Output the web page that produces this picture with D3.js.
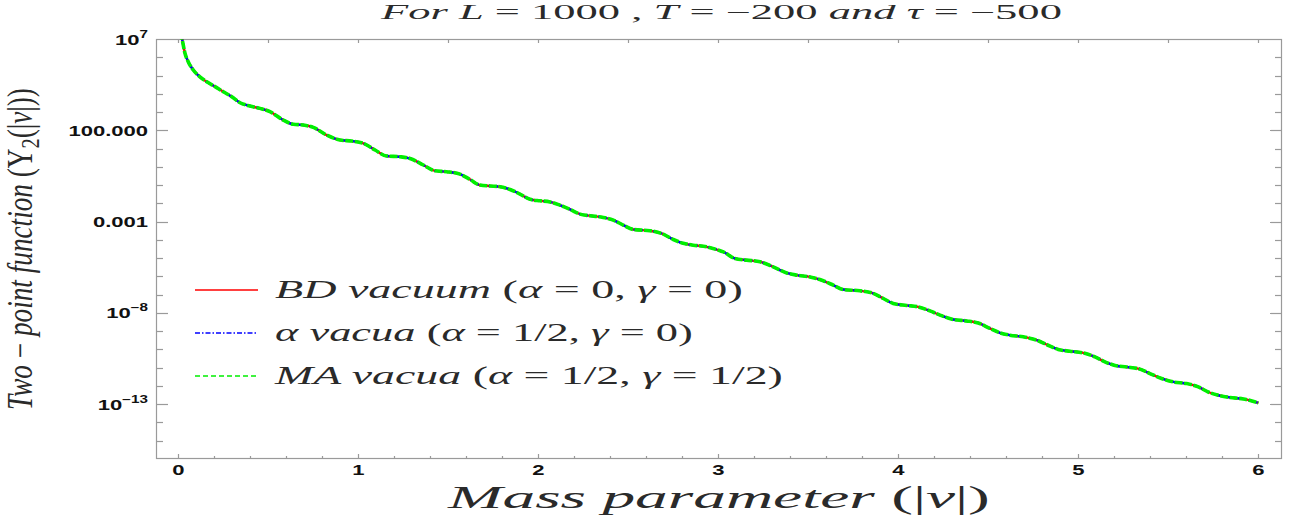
<!DOCTYPE html>
<html><head><meta charset="utf-8">
<script src="https://cdn.jsdelivr.net/npm/d3@7"></script>
<style>
html,body{margin:0;padding:0;background:#fff;}
svg{display:block;}
</style></head>
<body>
<svg id="chart" width="1306" height="527"></svg>
<script>
// ---- data ----
const massParameter = [0.012,0.021,0.036,0.054,0.082,0.119,0.157,0.203,0.249,0.296,0.342,0.397,0.453,0.508,0.582,0.638,0.693,0.749,0.823,0.897,0.962,1.027,1.092,1.157,1.231,1.286,1.36,1.425,1.49,1.564,1.619,1.675,1.731,1.786,1.842,1.897,1.953,2.008,2.064,2.119,2.175,2.231,2.286,2.36,2.416,2.471,2.527,2.619,2.684,2.749,2.804,2.86,2.934,2.999,3.027,3.092,3.157,3.231,3.304,3.379,3.434,3.508,3.582,3.638,3.693,3.786,3.86,3.916,3.971,4.046,4.11,4.175,4.231,4.304,4.379,4.443,4.508,4.564,4.619,4.693,4.768,4.823,4.888,4.953,5.027,5.092,5.147,5.203,5.268,5.342,5.397,5.462,5.527,5.601,5.666,5.721,5.777,5.842,5.916,6.0];
// log10 of the two-point function (identical for all three vacua at this scale)
const log10TwoPoint = [7.4,6.95,6.22,5.76,5.30,4.93,4.66,4.39,4.11,3.84,3.51,3.33,3.20,3.02,2.56,2.33,2.29,2.16,1.74,1.47,1.41,1.29,0.92,0.59,0.55,0.46,0.10,-0.22,-0.27,-0.40,-0.69,-1.00,-1.05,-1.09,-1.24,-1.49,-1.78,-1.86,-1.92,-2.10,-2.33,-2.59,-2.68,-2.77,-2.92,-3.19,-3.43,-3.50,-3.65,-3.98,-4.19,-4.29,-4.38,-4.56,-4.66,-5.02,-5.11,-5.20,-5.48,-5.81,-5.93,-6.03,-6.24,-6.48,-6.72,-6.79,-6.93,-7.21,-7.48,-7.59,-7.67,-7.89,-8.12,-8.36,-8.44,-8.55,-8.85,-9.09,-9.22,-9.31,-9.49,-9.73,-10.00,-10.10,-10.19,-10.41,-10.68,-10.88,-10.96,-11.08,-11.32,-11.59,-11.78,-11.87,-12.05,-12.33,-12.51,-12.63,-12.71,-12.93];
const bdVacuum = log10TwoPoint.map(v => Math.pow(10, v));
const alphaVacua = log10TwoPoint.map(v => Math.pow(10, v));
const maVacua = log10TwoPoint.map(v => Math.pow(10, v));

const xTickValues = [0,1,2,3,4,5,6];
const xTickLabels = ["0","1","2","3","4","5","6"];
const yTickValues = [1e7, 1e2, 1e-3, 1e-8, 1e-13];
const yTickLabels = [["10","7"],["100.000",""],["0.001",""],["10","\u22128"],["10","\u221213"]];
const seriesNames = ["BD vacuum", "\u03b1 vacua", "MA vacua"];

// ---- layout ----
const svg = d3.select("#chart");
const L = 156, R = 1282, T = 39, B = 459;
const x = d3.scaleLinear().domain([-0.125, 6.131]).range([L, R]);
const y = d3.scaleLog().domain([1e-16, 1e7]).range([B, T]);
const frameColor = "#9a9a9a";
const STRETCH = 1.52;

// clip
svg.append("defs").append("clipPath").attr("id","clip")
  .append("rect").attr("x",L).attr("y",T).attr("width",R-L).attr("height",B-T);

// frame
svg.append("rect").attr("x",L+0.5).attr("y",T+0.5).attr("width",R-L-1).attr("height",B-T-1)
  .attr("fill","none").attr("stroke",frameColor).attr("stroke-width",1.2);

const tickG = svg.append("g").attr("stroke", frameColor).attr("stroke-width",1.2);
// bottom ticks
d3.range(0, 6.001, 0.2).forEach(v => {
  const major = Math.abs(v - Math.round(v)) < 1e-6;
  const px = Math.round(x(v)) + 0.5;
  tickG.append("line").attr("x1",px).attr("x2",px).attr("y1",B).attr("y2",B-(major?5:3));
});
// top ticks
d3.range(0, 6.001, 0.5).forEach(v => {
  const px = Math.round(x(v)) + 0.5;
  tickG.append("line").attr("x1",px).attr("x2",px).attr("y1",T).attr("y2",T+4);
});
// left/right ticks, every decade
d3.range(-16, 8).forEach(e => {
  const v = Math.pow(10, e);
  const major = yTickValues.some(t => Math.abs(Math.log10(t) - e) < 1e-6);
  const py = Math.round(y(v)) + 0.5;
  if (e === 7 || e === -16) return;
  tickG.append("line").attr("x1",L).attr("x2",L+(major?12:7)).attr("y1",py).attr("y2",py);
  tickG.append("line").attr("x1",R).attr("x2",R-(major?12:7)).attr("y1",py).attr("y2",py);
});

// tick labels
const tickFont = "'Liberation Sans', Arial, sans-serif";
xTickValues.forEach((v,i) => {
  svg.append("text").attr("transform",`translate(${x(v)},${475}) scale(${STRETCH},1)`)
    .attr("text-anchor","middle").attr("font-family",tickFont).attr("font-weight","bold")
    .attr("font-size",14.5).attr("fill","#111").text(xTickLabels[i]);
});
yTickValues.forEach((v,i) => {
  const t = svg.append("text").attr("transform",`translate(${148},${y(v)+5.5}) scale(${STRETCH},1)`)
    .attr("text-anchor","end").attr("font-family",tickFont).attr("font-weight","bold")
    .attr("font-size",14.5).attr("fill","#111");
  t.append("tspan").text(yTickLabels[i][0]);
  if (yTickLabels[i][1]) t.append("tspan").attr("dy",-7).attr("font-size",10).text(yTickLabels[i][1]);
});

// lines
const pts = arr => arr.map((v,i) => [massParameter[i], v]);
const line = d3.line().x(d => x(d[0])).y(d => y(d[1])).curve(d3.curveMonotoneX);
const plotG = svg.append("g").attr("clip-path","url(#clip)");
plotG.append("path").attr("d", line(pts(bdVacuum))).attr("fill","none")
  .attr("stroke","#ff0000").attr("stroke-width",2.4);
plotG.append("path").attr("d", line(pts(alphaVacua))).attr("fill","none")
  .attr("stroke","#0000ff").attr("stroke-width",2.4).attr("stroke-dasharray","6,2,1.5,2");
plotG.append("path").attr("d", line(pts(maVacua))).attr("fill","none")
  .attr("stroke","#00ee00").attr("stroke-width",3.6).attr("stroke-dasharray","8,1.6");

// helper: draw math-like text with tspans and fit to width
const serif = "'Liberation Serif', 'Times New Roman', serif";
function mathText(parent, parts, size, color) {
  const t = parent.append("text").attr("font-family", serif).attr("font-size", size).attr("fill", color);
  parts.forEach(p => {
    const s = t.append("tspan").text(p.t).attr("font-style", p.i ? "italic" : "normal");
    if (p.dy) s.attr("dy", p.dy);
    if (p.fs) s.attr("font-size", p.fs);
  });
  return t;
}
function fitH(t, x0, base, width, anchor) {
  t.attr("text-anchor", anchor || "start");
  const w = t.node().getComputedTextLength();
  const s = width / w;
  t.attr("transform", `translate(${x0},${base}) scale(${s},1)`);
}

// title
const title = mathText(svg, [
  {t:"For ", i:true},{t:"L", i:true},{t:" = 1000 , "},{t:"T", i:true},{t:" = \u2212200 "},
  {t:"and ", i:true},{t:"\u03c4", i:true},{t:" = \u2212500"}], 20, "#2a2a2a");
fitH(title, 381, 19, 681);

// x label
const xl = mathText(svg, [{t:"Mass parameter", i:true},{t:"  (|"},{t:"\u03bd", i:true},{t:"|)"}], 32, "#2a2a2a");
fitH(xl, 448, 508, 542);

// y label
const yl = mathText(svg, [{t:"Two", i:true},{t:" \u2212 "},{t:"point function", i:true},{t:" (Y"},
  {t:"2", dy:5, fs:18},{t:"(|", dy:-5},{t:"\u03bd", i:true},{t:"|))"}], 24, "#2a2a2a");
yl.attr("text-anchor","middle");
{
  const w = yl.node().getComputedTextLength();
  yl.attr("transform", `translate(${32},${249}) rotate(-90) scale(${322/w},1.45)`);
}

// legend
const legendItems = [
  {parts:[{t:"BD vacuum", i:true},{t:" ("},{t:"\u03b1", i:true},{t:" = 0,  "},{t:"\u03b3", i:true},{t:" = 0)"}],
   color:"#ff0000", dash:null, w:468},
  {parts:[{t:"\u03b1 vacua", i:true},{t:" ("},{t:"\u03b1", i:true},{t:" = 1/2,  "},{t:"\u03b3", i:true},{t:" = 0)"}],
   color:"#0000ff", dash:"5,2,1.5,2", w:418},
  {parts:[{t:"MA vacua", i:true},{t:" ("},{t:"\u03b1", i:true},{t:" = 1/2,  "},{t:"\u03b3", i:true},{t:" = 1/2)"}],
   color:"#00ee00", dash:"5,3", w:508}
];
legendItems.forEach((it, i) => {
  const ly = 290 + i * 43;
  const l = svg.append("line").attr("x1",195).attr("x2",258).attr("y1",ly).attr("y2",ly)
    .attr("stroke", it.color).attr("stroke-width",1.6);
  if (it.dash) l.attr("stroke-dasharray", it.dash);
  const t = mathText(svg, it.parts, 25, "#2a2a2a");
  t.attr("data-name", seriesNames[i]);
  fitH(t, 275, ly + 7.5, it.w);
});
</script>
</body></html>
